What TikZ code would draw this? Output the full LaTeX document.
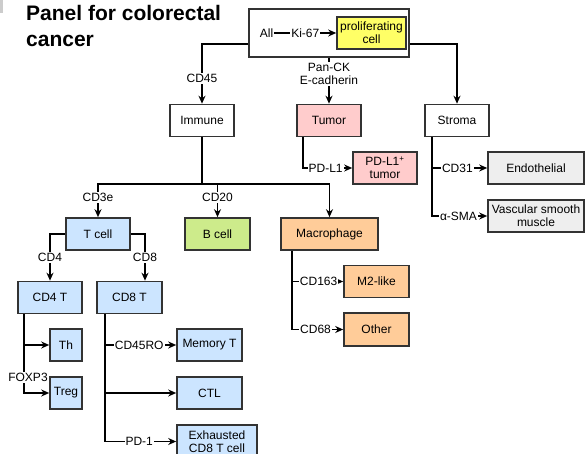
\documentclass[tikz,border=0pt]{standalone}
\usepackage{fontspec}
\setmainfont{Liberation Sans}
\usetikzlibrary{arrows.meta}
\definecolor{boxline}{HTML}{333333}
\definecolor{prolifyellow}{HTML}{FFFF66}
\definecolor{tumorpink}{HTML}{FFCCCC}
\definecolor{stromagray}{HTML}{EEEEEE}
\definecolor{tblue}{HTML}{CCE5FF}
\definecolor{bgreen}{HTML}{CDEB8B}
\definecolor{macorange}{HTML}{FFCC99}
\tikzset{
    every node/.style={font=\fontsize{12}{13}\selectfont, inner sep=1pt}
}
\tikzset{
    cellbox/.style={rectangle, draw=boxline, line width=1.6pt, minimum width=64pt,
    	minimum height=32pt, align=center, inner sep=0pt}
}
\tikzset{
    tag/.style={fill=white, inner sep=1pt},
    link/.style={line width=1.6pt, -{Stealth[length=8pt, width=7pt]}}
}

\begin{document}
\begin{tikzpicture}[x=1pt, y=-1pt]
  \useasboundingbox (0,0) rectangle (586,454);
  \fill [black!20] (0,0) rectangle (3,13);

  \node (title) [anchor=north west, inner sep=0pt, align=left,
  	font=\bfseries\fontsize{21}{26}\selectfont] at (26,5) {Panel for colorectal\\cancer};

  \node (all) [cellbox, minimum width=160pt, minimum height=48pt] at (329, 33) {};
  \node (alltxt) at (266.5, 33) {All};
  \node (prolif) [cellbox, fill=prolifyellow, minimum width=69pt] at (371.5, 33) {proliferating\\cell};

  \node (immune) [cellbox] at (202, 120.5) {Immune};
  \node (tumor) [cellbox, fill=tumorpink] at (329, 120.5) {Tumor};
  \node (stroma) [cellbox] at (457, 120.5) {Stroma};

  \node (pdl1) [cellbox, fill=tumorpink] at (385, 168) {PD-L1\textsuperscript{+}\\tumor};
  \node (endo) [cellbox, fill=stromagray, minimum width=96pt] at (536, 168) {Endothelial};
  \node (vsm) [cellbox, fill=stromagray, minimum width=96pt] at (536, 216) {Vascular smooth\\muscle};

  \node (tcell) [cellbox, fill=tblue] at (98, 234) {T cell};
  \node (bcell) [cellbox, fill=bgreen, minimum width=65pt] at (217.5, 234) {B cell};
  \node (macro) [cellbox, fill=macorange, minimum width=97pt] at (329.5, 234) {Macrophage};

  \node (m2) [cellbox, fill=macorange, minimum width=65pt] at (376.5, 281.5) {M2-like};
  \node (other) [cellbox, fill=macorange, minimum width=65pt, minimum height=33pt] at (376.5, 329.5) {Other};

  \node (cd4t) [cellbox, fill=tblue] at (50, 297.5) {CD4 T};
  \node (cd8t) [cellbox, fill=tblue, minimum width=65pt] at (129.5, 297.5) {CD8 T};

  \node (th) [cellbox, fill=tblue, minimum width=32pt] at (66, 345) {Th};
  \node (treg) [cellbox, fill=tblue, minimum width=32pt] at (66, 393) {Treg};

  \node (memt) [cellbox, fill=tblue, minimum width=65pt] at (209.5, 345) {Memory T};
  \node (ctl) [cellbox, fill=tblue, minimum width=65pt] at (209.5, 393) {CTL};
  \node (exh) [cellbox, fill=tblue, minimum width=80pt, minimum height=33pt] at (217, 441.5) {Exhausted\\CD8 T cell};

  % top level
  \draw [link] (alltxt) -- node [tag] {Ki-67} (prolif);
  \draw [link] ([yshift=-11pt]all.west) -| node [tag, pos=.79] {CD45} (immune);
  \draw [link] ([yshift=-11pt]all.east) -| (stroma);
  \draw [link] (all.south -| tumor) -- node [tag, pos=.35, align=center] {Pan-CK\\E-cadherin} (tumor);

  % tumor and stroma
  \draw [link] ([xshift=-26pt]tumor.south) |- node [tag, pos=.73] {PD-L1} (pdl1);
  \draw [link] ([xshift=-25pt]stroma.south) |- node [tag, pos=.73] {CD31} (endo);
  \draw [link] ([xshift=-25pt]stroma.south) |- node [tag, pos=.74] {α-SMA} (vsm);

  % immune
  \coordinate (immsplit) at ([yshift=-47pt]immune.south);
  \draw [line width=1.6pt] (immune) -- (immsplit);
  \draw [link] (immsplit) -| node [tag, pos=.7] {CD3e} (tcell);
  \draw [link] (immsplit) -| node [tag, pos=.7] {CD20} (bcell);
  \draw [link] (immsplit) -| (macro);

  \draw [link] ([xshift=-37.5pt]macro.south) |- node [tag, pos=.76] {CD163} (m2);
  \draw [link] ([xshift=-37.5pt]macro.south) |- node [tag, pos=.73] {CD68} (other);

  % T cells
  \draw [link] (tcell.west) -| node [tag, pos=.75] {CD4} (cd4t);
  \draw [link] (tcell.east) -| node [tag, pos=.75] {CD8} ([xshift=15.5pt]cd8t.north);

  \draw [link] ([xshift=-26pt]cd4t.south) |- (th);
  \draw [link] ([xshift=-26pt]cd4t.south) |- node [tag, pos=.4, xshift=4pt] {FOXP3} (treg);

  \draw [link] ([xshift=-24.5pt]cd8t.south) |- node [tag, pos=.74] {CD45RO} (memt);
  \draw [link] ([xshift=-24.5pt]cd8t.south) |- (ctl);
  \draw [link] ([xshift=-24.5pt]cd8t.south) |- node [tag, pos=.74] {PD-1} (exh);
\end{tikzpicture}
\end{document}
